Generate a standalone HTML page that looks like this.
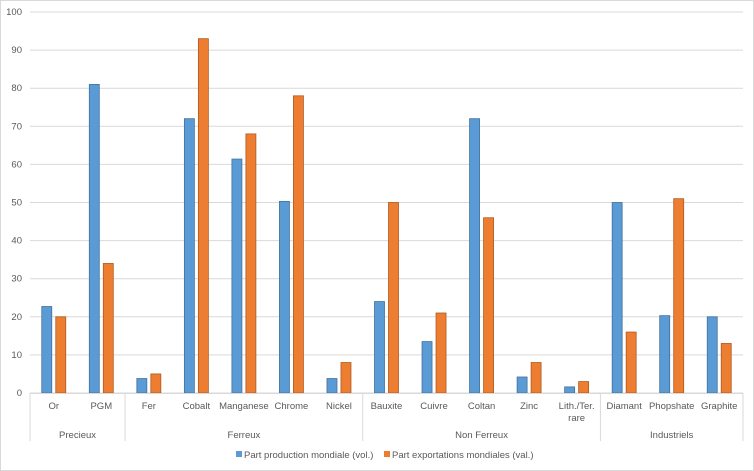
<!DOCTYPE html>
<html><head><meta charset="utf-8"><style>
body{margin:0;background:#fff}
svg{display:block;font-family:"Liberation Sans",sans-serif}
text{fill:#595959;font-size:9.5px}
</style></head><body>
<svg id="chart" width="754" height="471">
<rect x="0.5" y="0.5" width="753" height="470" fill="#fff" stroke="#d9d9d9"/>
<g id="grid"></g><g id="bars"></g><g id="axis"></g>
<g>
<rect x="236" y="451" width="6" height="6" fill="#5B9BD5"/>
<text x="244" y="458">Part production mondiale (vol.)</text>
<rect x="384" y="451" width="6" height="6" fill="#ED7D31"/>
<text x="392" y="458">Part exportations mondiales (val.)</text>
</g>
</svg>
<script>
const categories=["Or","PGM","Fer","Cobalt","Manganese","Chrome","Nickel","Bauxite","Cuivre","Coltan","Zinc","Lith./Ter.|rare","Diamant","Phopshate","Graphite"];
const groups=["Precieux","Ferreux","Non Ferreux","Industriels"];
const groupSizes=[2,5,5,3];
const production=[22.7,81,3.8,72,61.4,50.3,3.8,24,13.5,72,4.2,1.6,50,20.3,20];
const exportations=[20,34,5,93,68,78,8,50,21,46,8,3,16,51,13];
const yTicks=[0,10,20,30,40,50,60,70,80,90,100];
const NS="http://www.w3.org/2000/svg";
const X0=30,X1=743,Y0=393,Y1=12;
const bw=(X1-X0)/categories.length;
const y=v=>Y0-(v/100)*(Y0-Y1);
const xc=i=>X0+bw*(i+0.5);
function mk(t,a,p){const e=document.createElementNS(NS,t);for(const k in a)e.setAttribute(k,a[k]);p.appendChild(e);return e;}
const grid=document.getElementById('grid'),bars=document.getElementById('bars'),axis=document.getElementById('axis');
yTicks.forEach(v=>{
 const l=mk('line',{x1:X0,x2:X1,y1:y(v),y2:y(v),stroke:'#d9d9d9'},grid);
 
 
 const t=mk('text',{x:X0-8,y:y(v)+3,'text-anchor':'end'},axis);t.textContent=v;
 
 
});
categories.forEach((c,i)=>{
 const b1=mk('rect',{x:xc(i)-12,y:y(production[i]),width:10,height:Y0-y(production[i]),fill:'#5B9BD5',stroke:'#41719C','stroke-width':0.8},bars);
 
 
 const b2=mk('rect',{x:xc(i)+2,y:y(exportations[i]),width:10,height:Y0-y(exportations[i]),fill:'#ED7D31',stroke:'#AE5A21','stroke-width':0.8},bars);
 
 
 const lines=c.split('|');
 lines.forEach((s,k)=>{const t=mk('text',{x:xc(i),y:409+k*12,'text-anchor':'middle'},axis);t.textContent=s;
 
 });
});
const ax=mk('line',{x1:X0,x2:X1,y1:Y0+0.5,y2:Y0+0.5,stroke:'#d9d9d9'},axis);


let start=0;
const sep=i=>{const l=mk('line',{x1:X0+bw*i,x2:X0+bw*i,y1:Y0,y2:441,stroke:'#d9d9d9'},axis);
 
 };
sep(0);
groups.forEach((g,k)=>{
 const end=start+groupSizes[k];
 const t=mk('text',{x:X0+bw*(start+end)/2,y:438,'text-anchor':'middle'},axis);t.textContent=g;
 
 
 sep(end);start=end;
});
</script>
</body></html>
